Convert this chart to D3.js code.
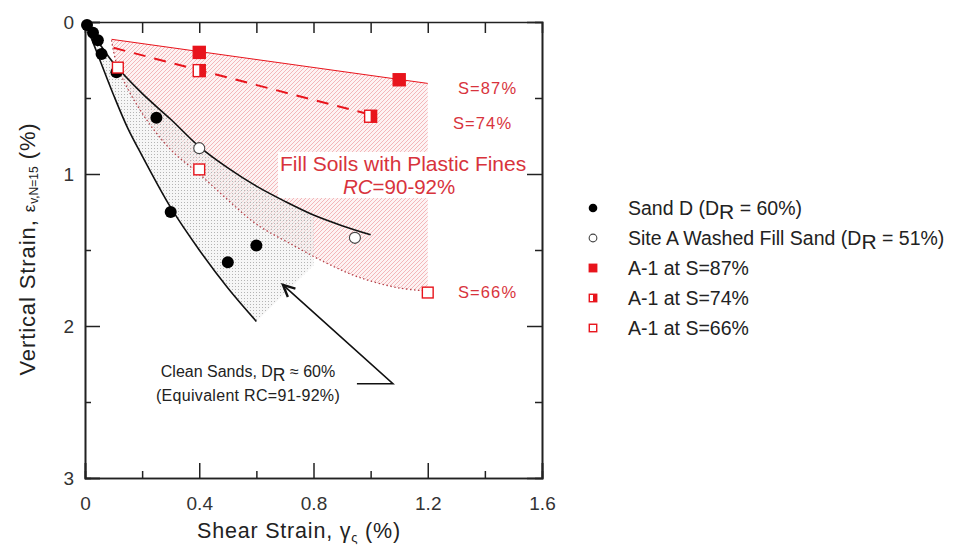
<!DOCTYPE html>
<html>
<head>
<meta charset="utf-8">
<script src="https://cdn.jsdelivr.net/npm/d3@7"></script>
<style>
  body { margin: 0; background: #fff; }
  text { font-family: Arial, "Liberation Sans", sans-serif; }
</style>
</head>
<body>
<div id="chart"></div>
<script>
// data: [shear strain %, vertical strain %]
const sandD = [[0.007,0.02],[0.028,0.07],[0.045,0.12],[0.058,0.21],[0.11,0.33],[0.25,0.63],[0.30,1.25],[0.50,1.58],[0.60,1.47]];
const siteA = [[0.40,0.83],[0.945,1.42]];
const a1s87 = [[0.40,0.20],[1.10,0.38]];
const a1s74 = [[0.40,0.32],[1.00,0.62]];
const a1s66 = [[0.115,0.30],[0.40,0.97],[1.20,1.78]];

// trend lines / band bounds
const s87Line = [[0.093,0.114],[1.20,0.404]];
const s74Line = [[0.10,0.17],[1.00,0.61]];
const s66Curve = [[0.093,0.12],[0.115,0.30],[0.2,0.60],[0.3,0.84],[0.4,1.00],[0.5,1.17],[0.6,1.33],[0.73,1.47],[0.85,1.59],[0.96,1.68],[1.1,1.75],[1.2,1.77]];
const siteACurve = [[0,0],[0.05,0.14],[0.1,0.27],[0.2,0.47],[0.3,0.64],[0.4,0.82],[0.5,0.96],[0.6,1.08],[0.7,1.18],[0.8,1.27],[0.9,1.34],[1.0,1.40]];
const cleanLower = [[0,0],[0.05,0.24],[0.1,0.48],[0.15,0.70],[0.2,0.88],[0.3,1.22],[0.4,1.50],[0.5,1.75],[0.6,1.97]];
const cleanRight = [[0.6,1.97],[0.8,1.60],[0.8,1.27]];
const arrowPath = [[0.952,2.38],[1.078,2.38],[0.693,1.73]];

const xMajor = [0, 0.4, 0.8, 1.2, 1.6];
const xMinor = [0.2, 0.6, 1.0, 1.4];
const xTop = [0.2, 0.4, 0.6, 0.8, 1.0, 1.2, 1.4];
const yMajor = [0, 1, 2, 3];
const yMinor = [0.5, 1.5, 2.5];

const legendItems = [
  {kind: "dot", label: ["Sand D (D", "R", " = 60%)"]},
  {kind: "ring", label: ["Site A Washed Fill Sand (D", "R", " = 51%)"]},
  {kind: "sqFull", label: ["A-1 at S=87%"]},
  {kind: "sqHalf", label: ["A-1 at S=74%"]},
  {kind: "sqOpen", label: ["A-1 at S=66%"]}
];

const red = "#e8141c", redText = "#d8333c";

const svg = d3.select("#chart").append("svg")
  .attr("width", 962).attr("height", 548);

const x = d3.scaleLinear().domain([0, 1.6]).range([85, 542]);
const y = d3.scaleLinear().domain([0, 3]).range([22, 478]);

// patterns
const defs = svg.append("defs");
const hatch = defs.append("pattern").attr("id", "hatch")
  .attr("patternUnits", "userSpaceOnUse").attr("width", 4).attr("height", 4);
hatch.append("rect").attr("width", 4).attr("height", 4).attr("fill", "#fdf3f3");
hatch.append("path").attr("d", "M-1,1 l2,-2 M0,4 l4,-4 M3,5 l2,-2")
  .attr("stroke", "#f0a2a5").attr("stroke-width", 0.75);
const stip = defs.append("pattern").attr("id", "stipple")
  .attr("patternUnits", "userSpaceOnUse").attr("width", 3).attr("height", 3);
stip.append("rect").attr("width", 3).attr("height", 3).attr("fill", "rgba(238,238,238,0.55)");
stip.append("rect").attr("x", 1).attr("y", 1).attr("width", 1).attr("height", 1).attr("fill", "#b4b4b4");

const line = d3.line().x(d => x(d[0])).y(d => y(d[1]));
const smooth = d3.line().x(d => x(d[0])).y(d => y(d[1])).curve(d3.curveCatmullRom);

// red hatched region: S=87 line on top, x=1.2 on the right, S=66 curve below
const hatchD = line(s87Line) + smooth(s66Curve.slice().reverse()).replace(/^M/, "L") + "Z";
svg.append("path").attr("d", hatchD).attr("fill", "url(#hatch)");

// clean sands stipple band
const cleanD = smooth(cleanLower) + line(cleanRight).replace(/^M/, "L") +
  smooth(siteACurve.filter(d => d[0] <= 0.8).reverse()).replace(/^M/, "L") + "Z";
svg.append("path").attr("d", cleanD).attr("fill", "url(#stipple)");

// white box behind the fill soils label
svg.append("rect").attr("x", 278).attr("y", 152).attr("width", 160).attr("height", 46).attr("fill", "#fff");

// lines
svg.append("path").attr("d", line(s87Line)).attr("fill", "none").attr("stroke", red).attr("stroke-width", 1);
svg.append("path").attr("d", line(s74Line)).attr("fill", "none").attr("stroke", red)
  .attr("stroke-width", 2).attr("stroke-dasharray", "12,9");
svg.append("path").attr("d", smooth(s66Curve)).attr("fill", "none").attr("stroke", "#b5424a")
  .attr("stroke-width", 1.3).attr("stroke-dasharray", "1.5,2.5");
svg.append("path").attr("d", smooth(siteACurve)).attr("fill", "none").attr("stroke", "#111").attr("stroke-width", 1.6);
svg.append("path").attr("d", smooth(cleanLower)).attr("fill", "none").attr("stroke", "#111").attr("stroke-width", 1.6);

// axes
function frameAxis(axis, tr, vals, size, labels) {
  const g = svg.append("g").attr("transform", tr)
    .call(axis.tickValues(vals).tickSize(size).tickPadding(labels ? labels.pad : 0)
      .tickFormat(labels ? labels.fmt : () => ""));
  g.selectAll(".tick line").attr("stroke", "#222").attr("stroke-width", 1.5);
  g.select(".domain").attr("stroke", "#222").attr("stroke-width", 1.6);
  g.selectAll("text").attr("font-size", 19).attr("fill", "#333")
    .attr("font-family", "Arial, 'Liberation Sans', sans-serif");
  return g;
}
frameAxis(d3.axisBottom(x).tickSizeOuter(0), "translate(0,478)", xMajor, -15, {pad: 19, fmt: d => d === 0 ? "0" : d3.format(".1f")(d)});
frameAxis(d3.axisBottom(x).tickSizeOuter(0), "translate(0,478)", xMinor, -7, null);
frameAxis(d3.axisTop(x).tickSizeOuter(0), "translate(0,22)", xTop, -11, null);
frameAxis(d3.axisLeft(y).tickSizeOuter(0), "translate(85,0)", yMajor, -15, {pad: 11, fmt: d3.format("d")});
frameAxis(d3.axisLeft(y).tickSizeOuter(0), "translate(85,0)", yMinor, -6, null);
frameAxis(d3.axisRight(y).tickSizeOuter(0), "translate(542,0)", yMajor.slice(1, 3), -15, null);
frameAxis(d3.axisRight(y).tickSizeOuter(0), "translate(542,0)", yMinor, -7, null);

// markers
function marker(g, kind, cx, cy, s) {
  if (kind === "dot") g.append("circle").attr("cx", cx).attr("cy", cy).attr("r", 6 * s).attr("fill", "#000");
  else if (kind === "ring") g.append("circle").attr("cx", cx).attr("cy", cy).attr("r", 5.5 * s)
    .attr("fill", "#fff").attr("stroke", "#444").attr("stroke-width", 1.1);
  else {
    const h = 6 * s;
    g.append("rect").attr("x", cx - h).attr("y", cy - h).attr("width", 2 * h).attr("height", 2 * h)
      .attr("fill", kind === "sqFull" ? red : "#fff").attr("stroke", red).attr("stroke-width", 1.4);
    if (kind === "sqHalf") g.append("rect").attr("x", cx).attr("y", cy - h).attr("width", h).attr("height", 2 * h).attr("fill", red);
  }
}
const mg = svg.append("g");
sandD.forEach(d => marker(mg, "dot", x(d[0]), y(d[1]), 1));
siteA.forEach(d => marker(mg, "ring", x(d[0]), y(d[1]), 1));
a1s87.forEach(d => marker(mg, "sqFull", x(d[0]), y(d[1]), 1));
a1s74.forEach(d => marker(mg, "sqHalf", x(d[0]), y(d[1]), 1));
a1s66.forEach(d => marker(mg, "sqOpen", x(d[0]), y(d[1]), 0.9));

// red labels
function redLabel(str, lx, ly) {
  return svg.append("text").attr("x", lx).attr("y", ly).attr("font-size", 16.5)
    .attr("fill", redText).attr("letter-spacing", 1.1).text(str);
}
redLabel("S=87%", 458, 94);
redLabel("S=74%", 453, 129);
redLabel("S=66%", 458, 298);
svg.append("text").attr("x", 280).attr("y", 171).attr("font-size", 21).attr("fill", redText)
  .text("Fill Soils with Plastic Fines");
const rc = svg.append("text").attr("x", 343).attr("y", 194).attr("font-size", 20.5).attr("fill", redText);
rc.append("tspan").attr("font-style", "italic").text("RC");
rc.append("tspan").text("=90-92%");

// clean sands note + arrow
const note = svg.append("text").attr("x", 248).attr("y", 377).attr("text-anchor", "middle")
  .attr("font-size", 16).attr("fill", "#222");
note.append("tspan").text("Clean Sands, D");
note.append("tspan").attr("font-size", 17.5).attr("dy", 4).text("R");
note.append("tspan").attr("dy", -4).text(" \u2248 60%");
svg.append("text").attr("x", 248).attr("y", 401).attr("text-anchor", "middle")
  .attr("font-size", 16).attr("fill", "#222").attr("letter-spacing", 0.3).text("(Equivalent RC=91-92%)");
svg.append("path").attr("d", line(arrowPath)).attr("fill", "none").attr("stroke", "#111").attr("stroke-width", 1.6);
const tip = arrowPath[2], from = arrowPath[1];
const ang = Math.atan2(y(from[1]) - y(tip[1]), x(from[0]) - x(tip[0]));
const tx = x(tip[0]), ty = y(tip[1]);
svg.append("path")
  .attr("d", `M${tx + 13 * Math.cos(ang - 0.45)},${ty + 13 * Math.sin(ang - 0.45)}L${tx},${ty}L${tx + 13 * Math.cos(ang + 0.45)},${ty + 13 * Math.sin(ang + 0.45)}`)
  .attr("fill", "none").attr("stroke", "#111").attr("stroke-width", 2.4);

// axis titles
const xt = svg.append("text").attr("x", 299).attr("y", 538).attr("text-anchor", "middle")
  .attr("font-size", 21.5).attr("fill", "#222").attr("letter-spacing", 0.8);
xt.append("tspan").text("Shear Strain, \u03b3");
xt.append("tspan").attr("font-size", 13).attr("dy", 4).text("\u03c2");
xt.append("tspan").attr("dy", -4).text(" (%)");

const yt = svg.append("text").attr("transform", "translate(35,249) rotate(-90)").attr("text-anchor", "middle")
  .attr("font-size", 22).attr("fill", "#222").attr("letter-spacing", 0.9);
yt.append("tspan").text("Vertical Strain, ");
yt.append("tspan").attr("font-size", 17).text("\u03b5");
yt.append("tspan").attr("font-size", 12).attr("dy", 3).attr("letter-spacing", 0).text("v,N=15");
yt.append("tspan").attr("dy", -3).text(" (%)");

// legend
const lg = svg.append("g");
legendItems.forEach((it, i) => {
  const ly = 208 + i * 30;
  marker(lg, it.kind, 593, ly, it.kind === "dot" ? 0.72 : it.kind === "ring" ? 0.7 : 0.62);
  const t = lg.append("text").attr("x", 628).attr("y", ly + 7).attr("font-size", 19.5).attr("fill", "#222");
  t.append("tspan").text(it.label[0]);
  if (it.label.length > 1) {
    t.append("tspan").attr("font-size", 21).attr("dy", 4).text(it.label[1]);
    t.append("tspan").attr("dy", -4).text(it.label[2]);
  }
});
</script>
</body>
</html>
